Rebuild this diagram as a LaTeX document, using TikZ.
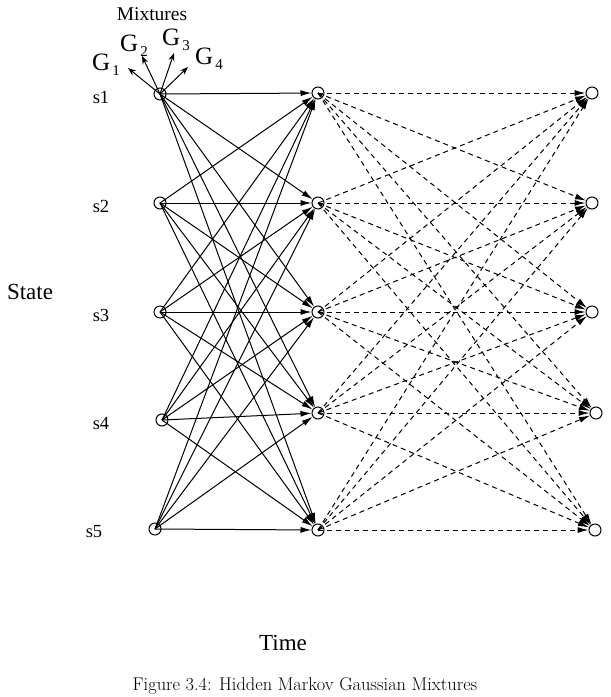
\documentclass[tikz,border=0pt]{standalone}
\usepackage{fontspec}
\usetikzlibrary{arrows.meta}
\newfontfamily\tnr{Liberation Serif}

\begin{document}
\begin{tikzpicture}[x=1pt, y=-1pt,
  state/.style={circle, draw, line width=1pt, minimum size=12pt, inner sep=0pt},
  trans/.style={line width=1pt, -{Latex[length=11pt,width=6pt]}},
  nexttrans/.style={trans, dash pattern=on 5pt off 4pt},
  mix/.style={line width=1pt, -{Stealth[length=8pt,width=6pt]}},
  lbl/.style={font=\tnr\fontsize{18.5}{18.5}\selectfont},
  big/.style={font=\tnr\fontsize{23}{23}\selectfont},
  gauss/.style={font=\tnr\fontsize{25}{25}\selectfont, inner sep=0pt}]
  \useasboundingbox (0,0) rectangle (611,697);

  % States at three time steps
  \foreach \i/\xl/\yl/\ym/\xr/\xs in {1/160/94/93/592/101, 2/160/203/203/592/101,
      3/160/312/312/592/101, 4/162/420/413/596/101, 5/155/529/530/595/94} {
    \node[state] (L\i) at (\xl,\yl) {};
    \node[state] (M\i) at (318,\ym) {};
    \node[state] (R\i) at (\xr,\ym) {};
    \node[lbl] (s\i) at (\xs,\yl+3) {s\i};
  }

  % Transitions (solid, then dashed)
  \foreach \i in {1,...,5} {
    \foreach \j in {1,...,5} {
      \draw[trans] (L\i.center) -- (M\j);
      \draw[nexttrans] (M\i.center) -- (R\j);
    }
  }

  % Gaussian mixtures of s1
  \coordinate (g1) at (128,68);
  \coordinate (g2) at (142,56);
  \coordinate (g3) at (174,53);
  \coordinate (g4) at (188,67);
  \foreach \k in {1,...,4}
    \draw[mix] (L1.center) -- (g\k);
  \node[gauss] (G1) at (106,65) {G\kern2pt\raisebox{-5pt}{\fontsize{15}{15}\selectfont 1}};
  \node[gauss] (G2) at (134,46) {G\kern2pt\raisebox{-5pt}{\fontsize{15}{15}\selectfont 2}};
  \node[gauss] (G3) at (176,40) {G\kern2pt\raisebox{-5pt}{\fontsize{15}{15}\selectfont 3}};
  \node[gauss] (G4) at (209,59) {G\kern2pt\raisebox{-5pt}{\fontsize{15}{15}\selectfont 4}};
  \node[font=\tnr\fontsize{19.5}{19.5}\selectfont] (mixt) at (152,14) {Mixtures};

  % Axis labels and caption
  \node[big] (state) at (30,292) {State};
  \node[big] (time) at (283,643) {Time};
  \node[font=\fontsize{18.4}{18.4}\selectfont] (caption) at (305,686)
    {Figure 3.4: Hidden Markov Gaussian Mixtures};
\end{tikzpicture}
\end{document}
